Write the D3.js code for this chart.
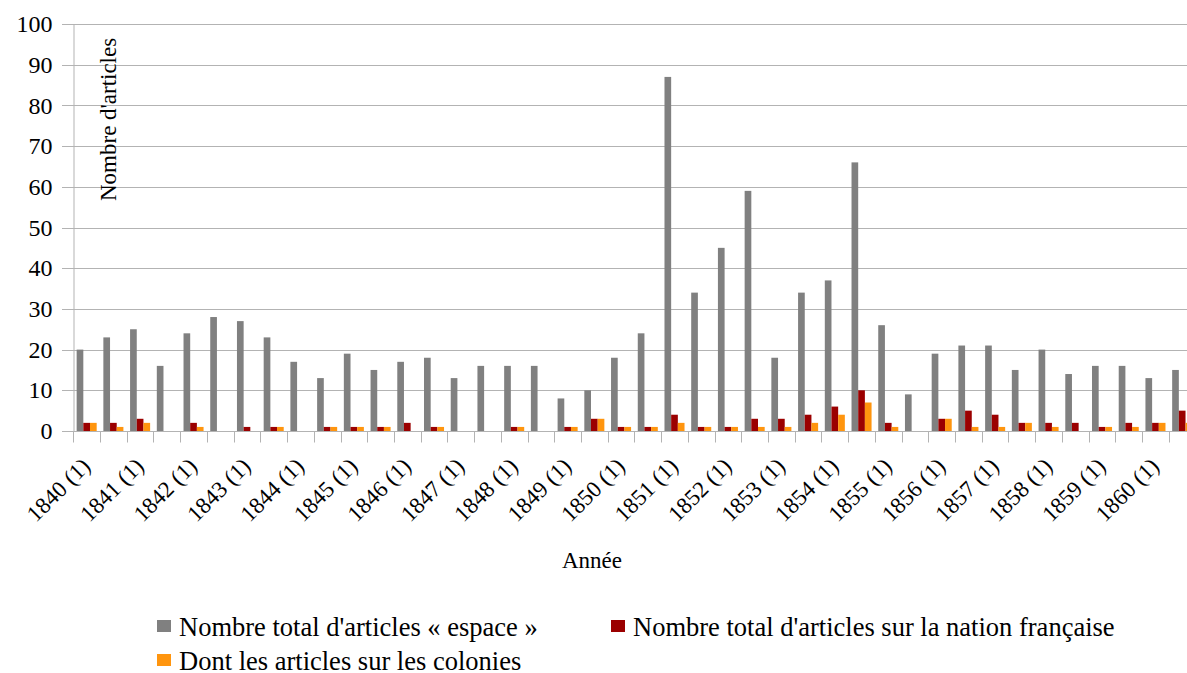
<!DOCTYPE html>
<html>
<head>
<meta charset="utf-8">
<script src="https://cdn.jsdelivr.net/npm/d3@7"></script>
<style>
  body { margin: 0; background: #fff; }
  svg, svg text { font-family: "Liberation Serif", "Times New Roman", "DejaVu Serif", serif; }
</style>
</head>
<body>
<div id="chart"></div>
<script>
// one entry per half-year, only the (1) halves get a visible label
const years = d3.range(1840, 1861);
const periods = years.flatMap(y => [y + " (1)", y + " (2)"]);

const totalEspace = [20, 23, 25, 16, 24, 28, 27, 23, 17, 13, 19, 15, 17, 18, 13, 16, 16, 16, 8, 10, 18,
                     24, 87, 34, 45, 59, 18, 34, 37, 66, 26, 9, 19, 21, 21, 15, 20, 14, 16, 16, 13, 15];
const nationFr    = [2, 2, 3, 0, 2, 0, 1, 1, 0, 1, 1, 1, 2, 1, 0, 0, 1, 0, 1, 3, 1,
                     1, 4, 1, 1, 3, 3, 4, 6, 10, 2, 0, 3, 5, 4, 2, 2, 2, 1, 2, 2, 5];
const colonies    = [2, 1, 2, 0, 1, 0, 0, 1, 0, 1, 1, 1, 0, 1, 0, 0, 1, 0, 1, 3, 1,
                     1, 2, 1, 1, 1, 1, 2, 4, 7, 1, 0, 3, 1, 1, 2, 1, 0, 1, 1, 2, 2];
const seriesNames = ["Nombre total d'articles « espace »", "Nombre total d'articles sur la nation française", "Dont les articles sur les colonies"];
const seriesColors = ["#808080", "#9b0000", "#ff950e"];
const yTicks = [0, 10, 20, 30, 40, 50, 60, 70, 80, 90, 100];

const width = 1187, height = 673;
const allSeries = [totalEspace, nationFr, colonies];

const svg = d3.select("#chart")
    .append("svg")
        .attr("width", width)
        .attr("height", height);

// the last half-year runs past the right edge, as in the original
const x = d3.scaleBand()
    .domain(periods)
    .range([73.3, 73.3 + 42 * 26.72]);

const inner = d3.scaleBand()
    .domain([0, 1, 2])
    .range([0, x.bandwidth()])
    .paddingOuter(0.5);

const y = d3.scaleLinear()
    .domain([0, 100])
    .range([431, 24]);

// grid
svg.append("g")
    .selectAll("line")
    .data(yTicks)
    .enter()
    .append("line")
        .attr("x1", 62)
        .attr("x2", width)
        .attr("y1", d => Math.round(y(d)) + 0.5)
        .attr("y2", d => Math.round(y(d)) + 0.5)
        .attr("stroke", "#b3b3b3");

// y axis
const yAxis = svg.append("g")
    .attr("transform", "translate(73.5,0)")
    .call(d3.axisLeft(y).tickValues(yTicks).tickSize(0).tickPadding(21));
yAxis.attr("font-family", null);
yAxis.select(".domain").attr("stroke", "#b3b3b3");
yAxis.selectAll("text")
    .attr("font-size", 24)
    .attr("fill", "#000");

// bars
const groups = svg.append("g")
    .selectAll("g")
    .data(allSeries)
    .enter()
    .append("g")
        .attr("fill", (d, i) => seriesColors[i]);

groups.each(function(vals, s) {
    d3.select(this).selectAll("rect")
        .data(vals)
        .enter()
        .append("rect")
            .attr("x", (v, i) => x(periods[i]) + inner(s))
            .attr("y", v => y(v))
            .attr("width", inner.bandwidth())
            .attr("height", v => y(0) - y(v));
});

// x axis
const xAxis = svg.append("g")
    .attr("transform", "translate(0," + (Math.round(y(0)) + 0.5) + ")");
xAxis.append("line")
    .attr("x1", 62)
    .attr("x2", width)
    .attr("stroke", "#b3b3b3");
xAxis.selectAll("line.tick")
    .data(periods)
    .enter()
    .append("line")
        .attr("class", "tick")
        .attr("x1", d => Math.round(x(d)) + 0.5)
        .attr("x2", d => Math.round(x(d)) + 0.5)
        .attr("y1", 0)
        .attr("y2", 11)
        .attr("stroke", "#b3b3b3");
xAxis.selectAll("text")
    .data(periods.filter((d, i) => i % 2 === 0))
    .enter()
    .append("text")
        .attr("transform", d => "translate(" + (x(d) + x.bandwidth() / 2 + 5) + ",36) rotate(-45)")
        .attr("text-anchor", "end")
        .attr("font-size", 23)
        .text(d => d);

// axis titles
svg.append("text")
    .attr("transform", "translate(116,201) rotate(-90)")
    .attr("font-size", 23)
    .text("Nombre d'articles");

svg.append("text")
    .attr("x", 592)
    .attr("y", 568)
    .attr("text-anchor", "middle")
    .attr("font-size", 23)
    .text("Année");

// legend
const legendPos = [[157, 620], [611, 620], [157, 654]];
const legend = svg.append("g")
    .selectAll("g")
    .data(seriesNames)
    .enter()
    .append("g")
        .attr("transform", (d, i) => "translate(" + legendPos[i][0] + "," + legendPos[i][1] + ")");
legend.append("rect")
    .attr("width", 14)
    .attr("height", 12)
    .attr("fill", (d, i) => seriesColors[i]);
legend.append("text")
    .attr("x", 22)
    .attr("y", 16)
    .attr("font-size", 26.5)
    .text(d => d);
</script>
</body>
</html>
